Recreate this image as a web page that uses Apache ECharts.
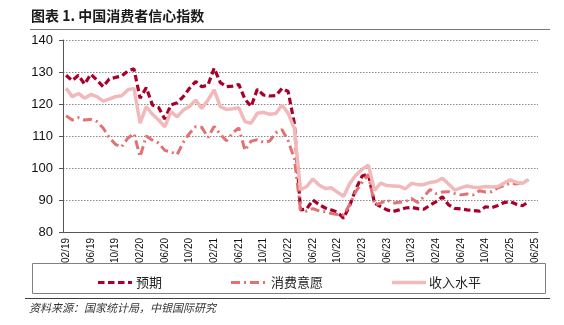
<!DOCTYPE html>
<html><head><meta charset="utf-8">
<script src="https://cdn.jsdelivr.net/npm/echarts@6/dist/echarts.min.js"></script>
<style>html,body{margin:0;padding:0;background:#fff}#c{width:564px;height:325px}</style>
</head><body><div id="c"></div>
<script>
// Categories: monthly, 2019-02 .. 2025-06 (last month has no data yet)
const months = [];
for (let y = 2019, m = 2; y < 2025 || (y === 2025 && m <= 6); ) {
  months.push(y + '-' + (m < 10 ? '0' + m : '' + m));
  m++; if (m > 12) { m = 1; y++; }
}

const yuqi = [ // 预期
  129.0,127.3,129.0,126.2,129.3,127.5,125.4,127.8,128.3,128.7,130.3,
  131.0,121.8,125.1,119.7,118.9,115.3,119.7,120.4,122.3,124.9,127.0,125.4,
  125.9,131.2,126.7,125.4,125.6,126.1,121.5,119.2,124.6,122.8,122.5,122.6,
  124.9,123.9,114.0,86.9,87.2,90.0,88.6,87.5,86.9,86.2,84.3,88.4,
  93.5,97.5,98.2,89.0,87.9,86.9,86.4,86.9,87.5,87.7,87.3,87.1,
  88.4,89.5,91.0,88.5,87.4,87.2,86.9,86.7,86.5,87.9,87.6,88.3,
  89.2,89.5,88.7,88.2,89.5,null
];
const xiaofei = [ // 消费意愿
  116.3,115.0,115.7,115.0,115.2,114.5,112.5,109.5,107.4,106.6,109.3,
  110.8,103.5,110.0,108.7,107.8,105.5,105.0,104.2,108.0,110.8,112.9,112.7,
  109.5,113.0,110.5,108.5,111.0,112.5,105.5,108.4,108.8,108.0,108.4,111.0,
  112.0,108.5,103.0,87.0,86.5,87.3,86.6,86.3,85.8,85.5,85.3,88.7,
  92.8,95.5,98.0,88.5,89.0,90.0,89.0,89.3,89.5,90.5,89.2,91.0,
  93.3,92.0,92.5,92.6,92.0,91.6,91.9,91.6,92.9,92.5,92.6,93.8,
  94.5,95.3,95.0,95.5,96.3,null
];
const shouru = [ // 收入水平
  124.9,122.3,123.3,121.8,123.0,122.3,120.9,121.5,122.3,122.6,124.4,
  124.9,114.0,119.2,116.8,115.0,112.9,117.6,116.0,118.1,119.2,121.2,118.6,
  121.2,124.4,119.2,118.3,118.5,118.8,114.5,114.0,117.1,117.4,116.8,117.0,
  119.7,117.1,112.4,93.2,94.2,96.6,94.7,93.6,93.8,92.4,91.2,95.2,
  97.8,99.6,100.9,93.0,95.3,94.5,94.4,94.3,93.5,95.2,94.8,94.8,
  95.5,95.8,96.8,95.0,93.1,93.8,94.4,94.0,93.9,94.2,94.1,94.2,
  95.3,96.3,95.5,95.2,96.4,null
];
const seriesNames = ['预期', '消费意愿', '收入水平'];
const yTicks = {min: 80, max: 140, interval: 10};

const COLORS = ['#A8002B', '#E27272', '#F2B9BB'];
const WIDTHS = [3.2, 3, 3.5];
const DASHES = [[6.5, 3.5], [9, 4, 2, 4], null];

const chart = echarts.init(document.getElementById('c'), null, {renderer: 'canvas'});
const FONT = '"Liberation Sans", Arial, sans-serif';
const CJK = '"Noto Sans CJK SC", sans-serif';

// legend drawn as sample line + text
const legendPos = [[98, 132, 136], [231, 268, 271], [392, 426, 429]];
const legendGraphics = [];
seriesNames.forEach((n, i) => {
  const p = legendPos[i];
  legendGraphics.push({type: 'line', shape: {x1: p[0], y1: 282.5, x2: p[1], y2: 282.5},
    style: {stroke: COLORS[i], lineWidth: WIDTHS[i], lineDash: DASHES[i] || null}});
  legendGraphics.push({type: 'text', x: p[2], y: 282.5, style: {text: n, font: '13px ' + CJK,
    fill: '#222', textVerticalAlign: 'middle', verticalAlign: 'middle'}});
});

chart.setOption({
  animation: false,
  backgroundColor: '#fff',
  grid: {left: 63, right: 26, top: 40, bottom: 93},
  xAxis: {
    type: 'category', data: months, boundaryGap: true,
    axisLine: {lineStyle: {color: '#555', width: 1}},
    axisTick: {interval: 3, length: 4, lineStyle: {color: '#555'}},
    axisLabel: {
      interval: 3, rotate: 90, margin: 6, fontSize: 10, fontFamily: FONT, color: '#111',
      formatter: v => v.slice(5, 7) + '/' + v.slice(2, 4)
    },
    splitLine: {show: false}
  },
  yAxis: {
    type: 'value', min: yTicks.min, max: yTicks.max, interval: yTicks.interval,
    axisLine: {show: true, lineStyle: {color: '#555', width: 1}},
    axisTick: {show: true, length: 4, lineStyle: {color: '#555'}},
    axisLabel: {fontSize: 13, fontFamily: FONT, color: '#111', margin: 10},
    splitLine: {lineStyle: {color: '#888', type: [1.5, 1.5], width: 1}}
  },
  series: seriesNames.map((n, i) => ({
    name: n, type: 'line', data: [yuqi, xiaofei, shouru][i], symbol: 'none',
    itemStyle: {color: COLORS[i]},
    lineStyle: {color: COLORS[i], width: WIDTHS[i], type: DASHES[i] || 'solid'}
  })),
  graphic: [
    {type: 'text', left: 31, top: 9, style: {text: '图表 1. 中国消费者信心指数',
      font: 'bold 14px ' + CJK, fill: '#1a1a1a'}},
    {type: 'line', shape: {x1: 30, y1: 29.5, x2: 550, y2: 29.5}, style: {stroke: '#7a7a7a', lineWidth: 1}},
    {type: 'rect', shape: {x: 32.5, y: 263.5, width: 513, height: 30}, style: {fill: 'none', stroke: '#808080', lineWidth: 1}},
    {type: 'line', shape: {x1: 25, y1: 298.5, x2: 550, y2: 298.5}, style: {stroke: '#404040', lineWidth: 1}},
    {type: 'text', left: 29, top: 302, style: {text: '资料来源：国家统计局，中银国际研究',
      font: 'italic 11px ' + CJK, fill: '#333'}}
  ].concat(legendGraphics)
});
</script></body></html>
